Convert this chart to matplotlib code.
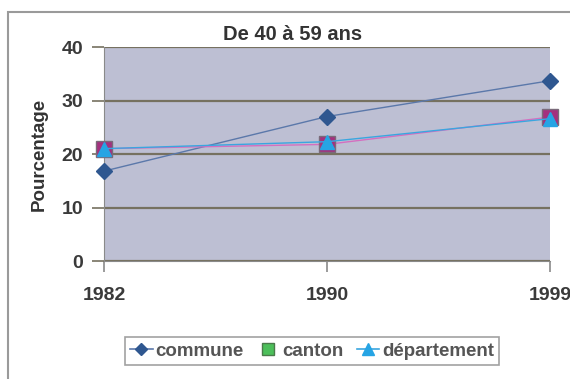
import matplotlib.pyplot as plt
from matplotlib.lines import Line2D
from matplotlib.patches import Rectangle

plt.rcParams['font.family'] = ['Liberation Sans', 'DejaVu Sans']

years = ['1982', '1990', '1999']
commune = [16.8, 27.0, 33.7]
canton = [21.0, 21.8, 26.9]
departement = [21.0, 22.3, 26.6]

fig = plt.figure(figsize=(5.7, 3.79), dpi=100)
fig.patch.set_facecolor('white')
# cadre du graphique
fig.patches.append(Rectangle((8 / 570, -0.1), 1.0, 1.1 - 12 / 379, transform=fig.transFigure,
                             fill=False, edgecolor='#9a9a9a', linewidth=1.5))

ax = fig.add_axes([104 / 570, 1 - 261 / 379, 446 / 570, 214 / 379])
ax.set_facecolor('#bdbfd3')
x = range(len(years))

ax.plot(x, commune, color='#5b78aa', linewidth=1, marker='D', markersize=8,
        markerfacecolor='#2f5790', markeredgecolor='#2f5790', zorder=3, clip_on=False)
ax.plot(x, canton, color='#d46fc0', linewidth=1, marker='s', markersize=11,
        markerfacecolor='#a4307e', markeredgecolor='#7a6a7a', zorder=3, clip_on=False)
ax.plot(x, departement, color='#3aa6df', linewidth=1, marker='^', markersize=10,
        markerfacecolor='#26a4e4', markeredgecolor='#26a4e4', zorder=4, clip_on=False)

ax.set_xlim(0, 2)
ax.set_ylim(0, 40)
ax.set_yticks([0, 10, 20, 30, 40])
ax.set_xticks(list(x))
ax.set_xticklabels(years)
ax.yaxis.grid(True, color='#767160', linewidth=1.6)
ax.set_axisbelow(True)
for s in ['top', 'right']:
    ax.spines[s].set_visible(False)
ax.spines['left'].set_color('#8a8a8a')
ax.spines['bottom'].set_color('#8a8a8a')
ax.tick_params(axis='both', colors='#8a8a8a', labelcolor='#3a3a3a', width=1.2,
               labelsize=14)
ax.tick_params(axis='y', length=9, pad=6, colors='#767160', labelcolor='#3a3a3a')
ax.tick_params(axis='x', length=8, pad=11)
for lab in ax.get_xticklabels() + ax.get_yticklabels():
    lab.set_fontweight('bold')

ax.set_ylabel('Pourcentage', fontsize=13.5, fontweight='bold', color='#333333', labelpad=10)
fig.text(293 / 570, 1 - 35 / 379, 'De 40 à 59 ans', fontsize=14.5, fontweight='bold',
         color='#333333', ha='center', va='center')

handles = [
    Line2D([], [], color='#5b78aa', marker='D', markersize=6, markerfacecolor='#2f5790',
           markeredgecolor='#2f5790', linewidth=1.2),
    Line2D([], [], color='white', marker='s', markersize=9, markerfacecolor='#4cbf5a',
           markeredgecolor='#4a7a4a', linewidth=0),
    Line2D([], [], color='#3aa6df', marker='^', markersize=8, markerfacecolor='#26a4e4',
           markeredgecolor='#26a4e4', linewidth=1.2),
]
leg = fig.legend(handles, ['commune', 'canton', 'département'], loc='center',
                 bbox_to_anchor=(312 / 570, 1 - 351 / 379), ncol=3, frameon=True,
                 fancybox=False, edgecolor='#8a8a8a', handlelength=1.2, handletextpad=0.15,
                 columnspacing=0.7, borderpad=0.3, prop={'size': 13.5, 'weight': 'bold'})
leg.get_frame().set_linewidth(1.2)
for t in leg.get_texts():
    t.set_color('#555555')

fig.savefig('out.png', dpi=100)
